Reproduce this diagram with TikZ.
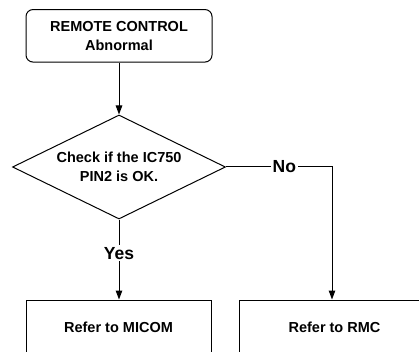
\documentclass[tikz,border=0pt]{standalone}
\usepackage{fontspec}
\setmainfont{Liberation Sans}
\usetikzlibrary{shapes.geometric,arrows.meta}
\begin{document}
\begin{tikzpicture}[x=1pt,y=-1pt,
  every node/.style={font=\bfseries\fontsize{14.5}{19}\selectfont},
  stepbox/.style={draw,line width=1pt,inner sep=0pt,align=center},
  decision/.style={draw,diamond,aspect=2.05,line width=1pt,inner sep=0pt,align=center,minimum width=213pt,minimum height=104pt},
  lbl/.style={fill=white,inner sep=2pt,font=\bfseries\fontsize{17.5}{20}\selectfont},
  conn/.style={line width=1pt,-{Triangle[length=9pt,width=6.5pt]}}]
\useasboundingbox (0,0) rectangle (419,352);
\node[stepbox,rounded corners=7pt,minimum width=186pt,minimum height=52.5pt] (start) at (119,35.8) {REMOTE CONTROL\\Abnormal};
\node[decision] (check) at (119,167) {Check if the IC750\\PIN2 is OK.};
\node[stepbox,minimum width=185pt,minimum height=54pt] (micom) at (118.5,327) {Refer to MICOM};
\node[stepbox,minimum width=191pt,minimum height=54pt] (rmc) at (334.5,327) {Refer to RMC};
\coordinate (corner) at (332,167);
\draw[conn] (start) -- (check);
\draw[conn] (check.south) -- node[lbl,pos=0.42] (yes) {Yes} (micom.north -| check.south);
\draw[conn] (check.east) -- node[lbl,pos=0.55] (no) {No} (corner) -- (rmc.north -| corner);
\end{tikzpicture}
\end{document}
